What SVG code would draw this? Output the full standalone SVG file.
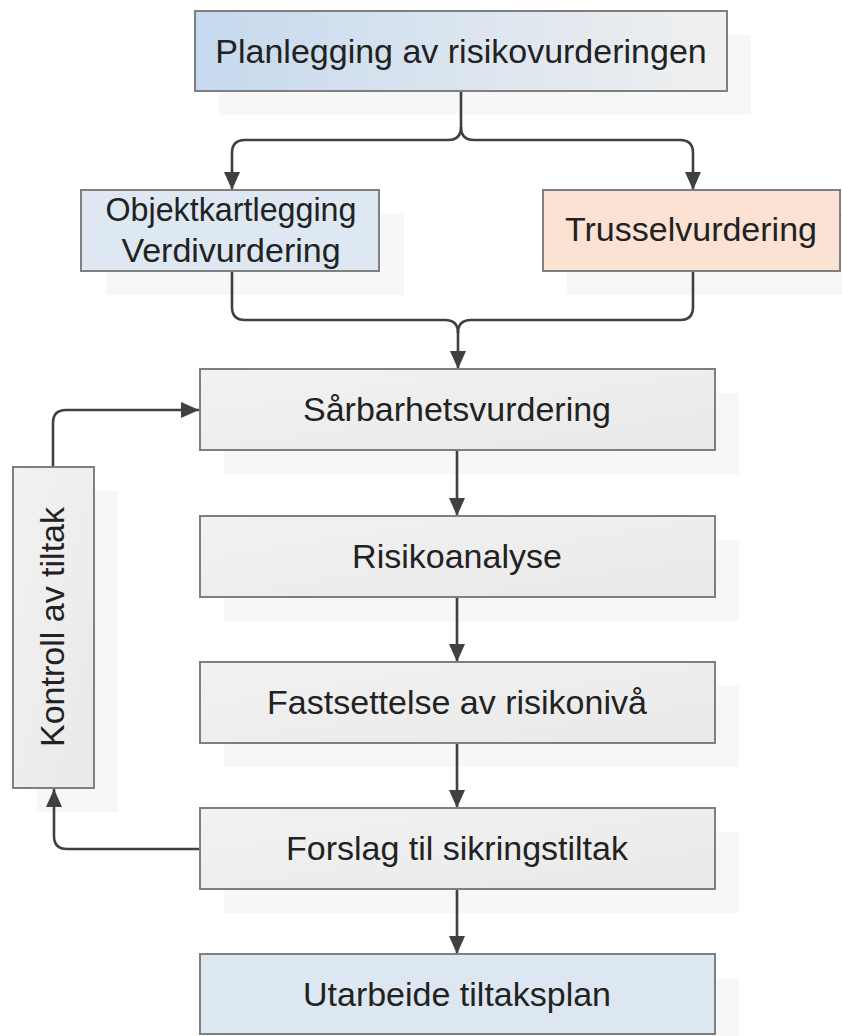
<svg xmlns="http://www.w3.org/2000/svg" width="842" height="1036" viewBox="0 0 842 1036">
<defs>
<linearGradient id="gTop" x1="0" y1="0" x2="1" y2="0">
<stop offset="0" stop-color="#c6d9ee"/>
<stop offset="1" stop-color="#f0f0f0"/>
</linearGradient>
<linearGradient id="gGray" x1="0" y1="0" x2="1" y2="1">
<stop offset="0" stop-color="#f2f2f2"/>
<stop offset="1" stop-color="#e9e9e9"/>
</linearGradient>
<marker id="arr" markerUnits="userSpaceOnUse" viewBox="0 0 18 16" markerWidth="18" markerHeight="16" refX="18" refY="8" orient="auto">
<path d="M0,0 L18,8 L0,16 Z" fill="#404040"/>
</marker>
</defs>
<style>
.box{stroke:#7f7f7f;stroke-width:2}
.gray{fill:url(#gGray)}
.sh{fill:#f7f7f7}
.t{font-family:"Liberation Sans",Arial,sans-serif;font-size:34px;fill:#222222;text-anchor:middle}
.c{fill:none;stroke:#404040;stroke-width:2.6}
</style>
<rect width="842" height="1036" fill="#ffffff"/>
<g id="shadows">
<rect class="sh" x="219" y="35" width="532" height="80"/>
<rect class="sh" x="106" y="214" width="298" height="81"/>
<rect class="sh" x="567" y="214" width="275" height="81"/>
<rect class="sh" x="224" y="393" width="515" height="81"/>
<rect class="sh" x="224" y="540" width="515" height="81"/>
<rect class="sh" x="224" y="686" width="515" height="81"/>
<rect class="sh" x="224" y="832" width="515" height="81"/>
<rect class="sh" x="224" y="978" width="515" height="58"/>
<rect class="sh" x="37" y="491" width="81" height="321"/>
</g>
<g id="connectors">
<path class="c" d="M461,91 V127 Q461,140 448,140 H245 Q232,140 232,153 V190" marker-end="url(#arr)"/>
<path class="c" d="M461,127 Q461,140 474,140 H680 Q693,140 693,153 V190" marker-end="url(#arr)"/>
<path class="c" d="M232,271 V307 Q232,320 245,320 H445 Q458,320 458,333 V369" marker-end="url(#arr)"/>
<path class="c" d="M693,271 V307 Q693,320 680,320 H471 Q458,320 458,333"/>
<path class="c" d="M457,450 V516" marker-end="url(#arr)"/>
<path class="c" d="M457,597 V662" marker-end="url(#arr)"/>
<path class="c" d="M457,743 V808" marker-end="url(#arr)"/>
<path class="c" d="M457,889 V954" marker-end="url(#arr)"/>
<path class="c" d="M53,467 V423 Q53,410 66,410 H199" marker-end="url(#arr)"/>
<path class="c" d="M200,849 H67 Q54,849 54,836 V789" marker-end="url(#arr)"/>
</g>
<g id="planlegging">
<rect class="box" x="195" y="11" width="532" height="80" fill="url(#gTop)"/>
<text class="t" x="461" y="63">Planlegging av risikovurderingen</text>
</g>
<g id="objektkartlegging">
<rect class="box" x="81" y="190" width="298" height="81" fill="#dde8f3"/>
<text class="t" x="231" y="221" textLength="251" lengthAdjust="spacingAndGlyphs">Objektkartlegging</text>
<text class="t" x="231" y="262">Verdivurdering</text>
</g>
<g id="trusselvurdering">
<rect class="box" x="543" y="190" width="297" height="81" fill="#fbe2d3"/>
<text class="t" x="691" y="241">Trusselvurdering</text>
</g>
<g id="sarbarhet">
<rect class="box gray" x="200" y="369" width="515" height="81"/>
<text class="t" x="457" y="421">Sårbarhetsvurdering</text>
</g>
<g id="risikoanalyse">
<rect class="box gray" x="200" y="516" width="515" height="81"/>
<text class="t" x="457" y="568">Risikoanalyse</text>
</g>
<g id="fastsettelse">
<rect class="box gray" x="200" y="662" width="515" height="81"/>
<text class="t" x="457" y="714">Fastsettelse av risikonivå</text>
</g>
<g id="forslag">
<rect class="box gray" x="200" y="808" width="515" height="81"/>
<text class="t" x="457" y="860">Forslag til sikringstiltak</text>
</g>
<g id="utarbeide">
<rect class="box" x="200" y="954" width="515" height="80" fill="#dce7f2"/>
<text class="t" x="457" y="1006">Utarbeide tiltaksplan</text>
</g>
<g id="kontroll">
<rect class="box gray" x="13" y="467" width="81" height="321"/>
<text class="t" transform="translate(64,627) rotate(-90)" x="0" y="0">Kontroll av tiltak</text>
</g>
</svg>
